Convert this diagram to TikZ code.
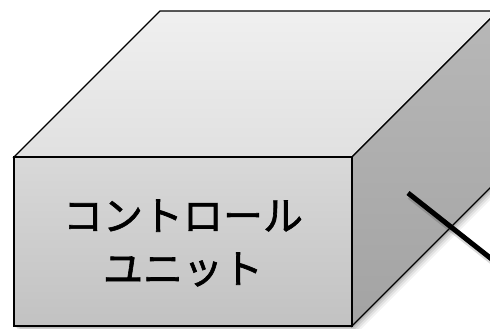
\documentclass[tikz,border=0pt]{standalone}
\usepackage{fontspec}
\usetikzlibrary{calc}
\newfontfamily\cjk[RawFeature={embolden=1.6}]{Noto Sans CJK JP}
\begin{document}
\begin{tikzpicture}[x=1pt,y=-1pt,
  edge/.style={draw=black,line width=1.3pt,line join=miter},
  label/.style={font=\cjk\fontsize{40}{53}\selectfont,align=center,text=black}]
\useasboundingbox (0,0) rectangle (490,329);
\clip (0,0) rectangle (490,329);
% corners
\coordinate (fl) at (14,157);
\coordinate (fr) at (352,157);
\coordinate (bl) at (14,326);
\coordinate (br) at (352,326);
\coordinate (tl) at (160,11);
\coordinate (tr) at (498,11);
\coordinate (rb) at (498,180);
% soft shadow
\foreach \d/\o in {6/0.05,4.5/0.07,3/0.09,1.5/0.12}{
  \fill[black,opacity=\o] ($(fr)+(\d,\d)$) -- ($(tr)+(\d,\d)$) -- ($(rb)+(\d,\d)$) -- ($(br)+(\d,\d)$) -- ($(bl)+(\d,\d)$) -- ($(fl)+(\d,\d)$) -- cycle;
}
% top face
\shade[top color=white!94!black,bottom color=white!88!black] (fl) -- (tl) -- (tr) -- (fr) -- cycle;
\draw[edge] (fl) -- (tl) -- (tr) -- (fr) -- cycle;
% right face
\shade[top color=white!72!black,bottom color=white!64!black] (fr) -- (tr) -- (rb) -- (br) -- cycle;
\draw[edge] (fr) -- (tr) -- (rb) -- (br) -- cycle;
% front face
\shade[top color=white!85!black,bottom color=white!76!black] (fl) -- (fr) -- (br) -- (bl) -- cycle;
\draw[edge] (fl) -- (fr) -- (br) -- (bl) -- cycle;
\node[label] (txt) at (183,243) {コントロール\\ユニット};
% cable
\coordinate (c1) at (408,193);
\coordinate (c2) at (508,272);
\draw[black,opacity=0.15,line width=7pt] ($(c1)+(2,3)$) -- ($(c2)+(2,3)$);
\draw[black,line width=5pt] (c1) -- (c2);
\end{tikzpicture}
\end{document}
